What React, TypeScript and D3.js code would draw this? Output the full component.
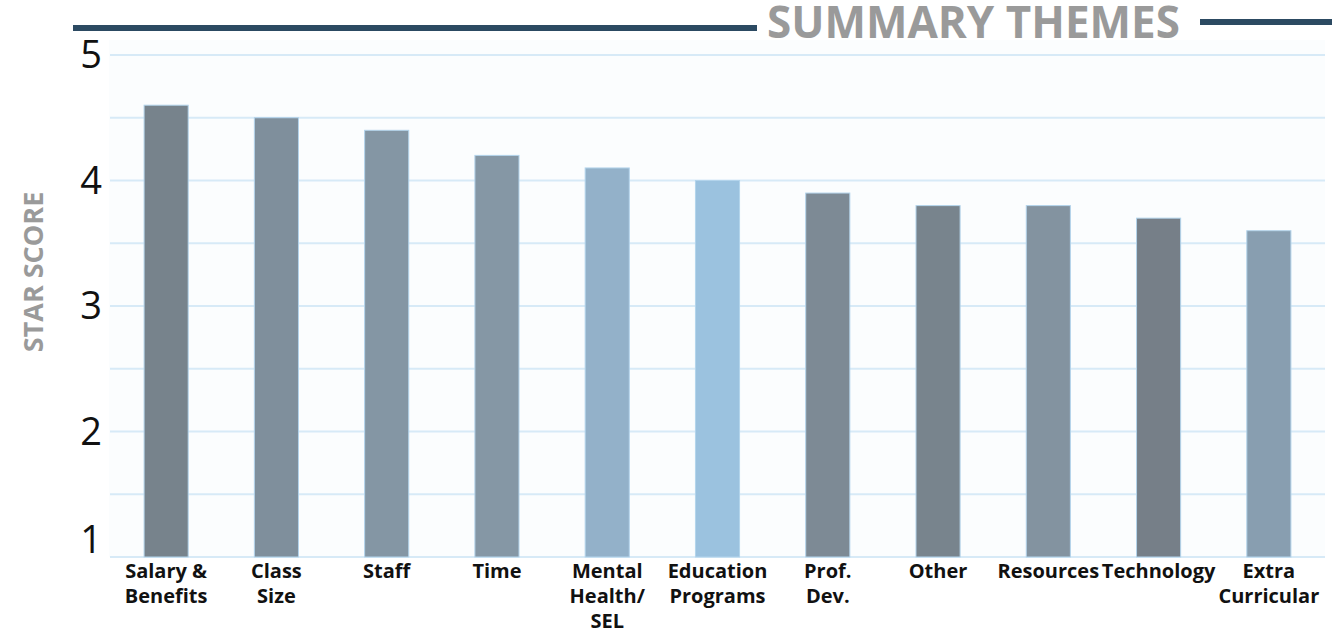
import React from "react";
import * as d3 from "d3";

const categories = [
  "Salary & Benefits",
  "Class Size",
  "Staff",
  "Time",
  "Mental Health/ SEL",
  "Education Programs",
  "Prof. Dev.",
  "Other",
  "Resources",
  "Technology",
  "Extra Curricular",
];
const labelLines = [
  ["Salary &", "Benefits"],
  ["Class", "Size"],
  ["Staff"],
  ["Time"],
  ["Mental", "Health/", "SEL"],
  ["Education", "Programs"],
  ["Prof.", "Dev."],
  ["Other"],
  ["Resources"],
  ["Technology"],
  ["Extra", "Curricular"],
];
const scores = [4.6, 4.5, 4.4, 4.2, 4.1, 4.0, 3.9, 3.8, 3.8, 3.7, 3.6];
const barColors = [
  "#77838c",
  "#7f8f9c",
  "#8496a4",
  "#8597a5",
  "#93b1c9",
  "#9bc2df",
  "#7d8a95",
  "#78848d",
  "#8393a0",
  "#767f88",
  "#889eb0",
];
const yTicks = [1, 2, 3, 4, 5];
const gridValues = [1, 1.5, 2, 2.5, 3, 3.5, 4, 4.5, 5];
const title = "SUMMARY THEMES";
const yTitle = "STAR SCORE";

const W = 1332;
const H = 631;
const FONT = "'Open Sans', 'Noto Sans', sans-serif";

export default function App() {
  const x = d3
    .scaleBand<string>()
    .domain(categories)
    .range([111, 1324])
    .paddingInner(0.6)
    .paddingOuter(0.3);
  const y = d3.scaleLinear().domain([1, 5]).range([557, 55]);

  return (
    <svg
      width={W}
      height={H}
      style={{ position: "absolute", left: 0, top: 0, background: "#ffffff" }}
      fontFamily={FONT}
    >
      <rect x={109} y={40} width={1216} height={517} fill="#fbfdfe" />
      {/* header lines */}
      <rect x={73} y={25} width={684} height={6} fill="#2c4a62" />
      <rect x={1200} y={19} width={132} height={6} fill="#2c4a62" />
      <text x={767} y={38} fontSize={44} fontWeight={700} fill="#9a9a9a">
        {title}
      </text>

      {/* gridlines */}
      {gridValues.map((v) => (
        <line
          key={v}
          x1={110}
          x2={1325}
          y1={y(v)}
          y2={y(v)}
          stroke="#d7eaf7"
          strokeWidth={2}
        />
      ))}

      {/* bars */}
      {categories.map((c, i) => (
        <rect
          key={c}
          x={x(c)}
          y={y(scores[i])}
          width={x.bandwidth()}
          height={y(1) - y(scores[i])}
          fill={barColors[i]}
          stroke="#b3d4ec"
          strokeWidth={1}
        />
      ))}

      {/* y tick labels */}
      {yTicks.map((t, i) => (
        <text
          key={t}
          x={102}
          y={i === 0 ? y(t) - 4 : y(t) + 13}
          fontSize={38}
          textAnchor="end"
          fill="#111111"
        >
          {t}
        </text>
      ))}

      {/* x labels */}
      {categories.map((c, i) => {
        const cx = (x(c) as number) + x.bandwidth() / 2;
        return (
          <g key={c}>
            {labelLines[i].map((ln, j) => (
              <text
                key={j}
                x={cx}
                y={578 + j * 25}
                fontSize={20}
                fontWeight={700}
                textAnchor="middle"
                fill="#111111"
              >
                {ln}
              </text>
            ))}
          </g>
        );
      })}

      {/* y axis title */}
      <text
        transform={`translate(32, 272) rotate(-90)`}
        fontSize={27}
        fontWeight={700}
        fill="#9a9a9a"
        textAnchor="middle"
        dominantBaseline="central"
      >
        {yTitle}
      </text>
    </svg>
  );
}
